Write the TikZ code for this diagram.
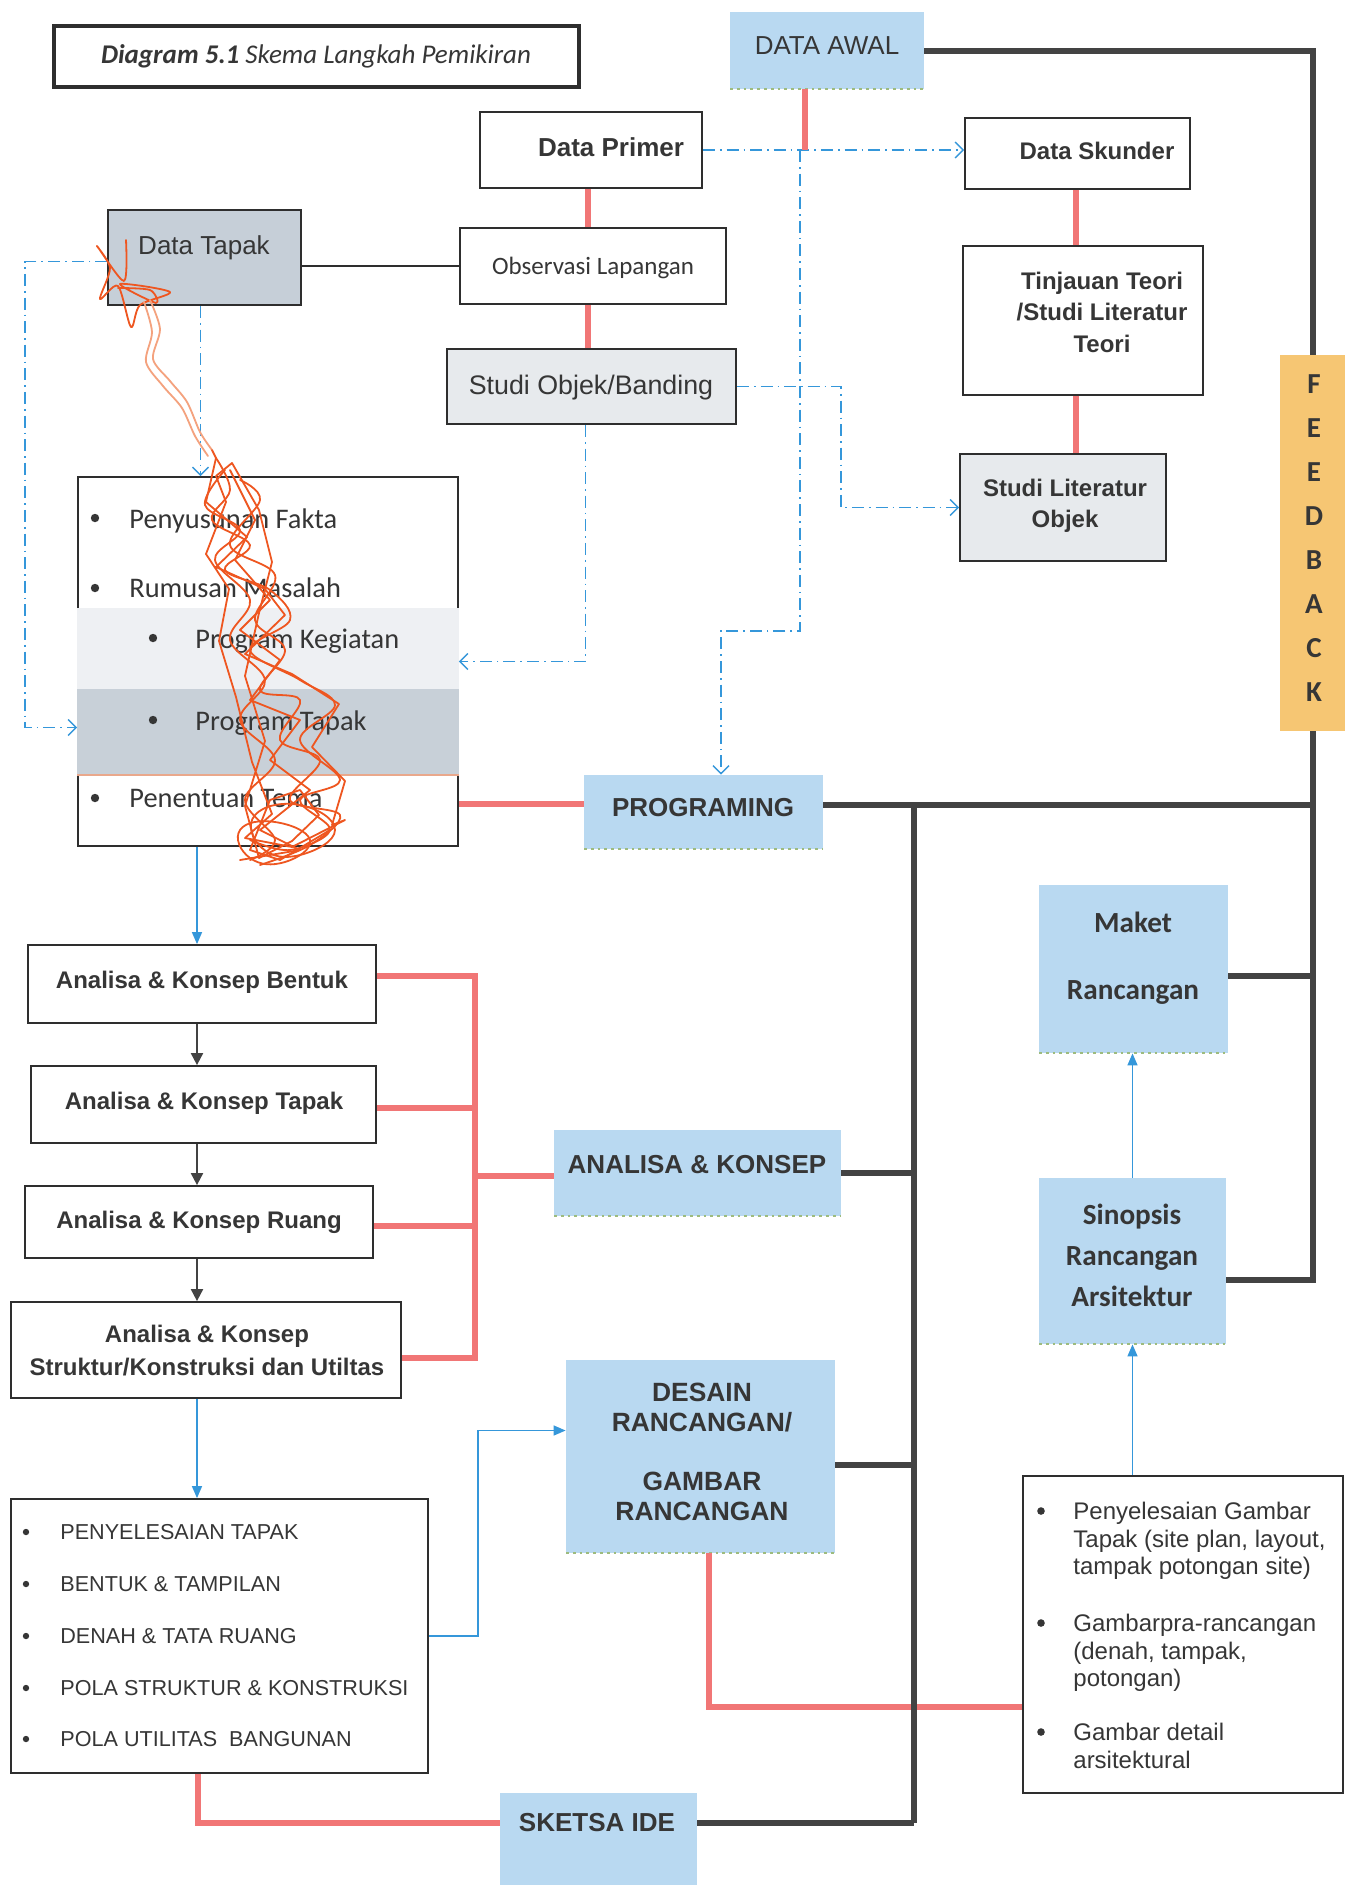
\documentclass[tikz,border=0pt]{standalone}
\usepackage{fontspec}
\setmainfont{Liberation Sans}
\newfontfamily\calfont{Carlito}
\usetikzlibrary{arrows.meta}

\definecolor{ink}{HTML}{363636}
\definecolor{boxline}{HTML}{2E2E2E}
\definecolor{bluefill}{HTML}{B9D9F1}
\definecolor{edgegreen}{HTML}{9DBB7E}
\definecolor{greyfill}{HTML}{E7EAED}
\definecolor{tapakfill}{HTML}{C6CFD8}
\definecolor{bandlight}{HTML}{EEF0F3}
\definecolor{banddark}{HTML}{C8D0D8}
\definecolor{bandedge}{HTML}{E9A88C}
\definecolor{feedfill}{HTML}{F6C673}
\definecolor{redline}{HTML}{F17676}
\definecolor{darkline}{HTML}{434343}
\definecolor{blueline}{HTML}{3597DA}
\definecolor{scrib}{HTML}{EE5620}
\definecolor{scribtail}{HTML}{F4A27E}

\begin{document}
\begin{tikzpicture}[x=0.5pt,y=-0.5pt,
  box/.style={draw=boxline,line width=0.9pt,fill=white,inner sep=0pt},
  greybox/.style={box,fill=greyfill},
  tapakbox/.style={box,fill=tapakfill},
  bluebox/.style={fill=bluefill,inner sep=0pt,
    path picture={\draw[dotted,line width=1.4pt,draw=edgegreen]
      (path picture bounding box.south west) -- (path picture bounding box.south east);}},
  feedbox/.style={fill=feedfill,inner sep=0pt},
  tx/.style={text=ink,inner sep=0pt,align=center},
  redln/.style={draw=redline,line width=3pt},
  darkln/.style={draw=darkline,line width=3pt},
  thinln/.style={draw=boxline,line width=0.9pt},
  bluearr/.style={draw=blueline,line width=0.7pt,-{Triangle[length=6pt,width=5pt]}},
  darkarr/.style={draw=darkline,line width=1pt,-{Triangle[length=6pt,width=6pt]}},
  dashdot/.style={draw=blueline,line width=0.7pt,dash pattern=on 6pt off 2.5pt on 0.8pt off 2.5pt},
  openarr/.style={dashdot,-{Straight Barb[length=4pt,width=8pt]}},
  bul/.style={fill=ink},
  scribble/.style={draw=scrib,line width=0.9pt,line join=round,line cap=round}
]
\useasboundingbox (0,0) rectangle (1345,1885);
\fill[white] (0,0) rectangle (1345,1885);

% ---------- boxes ----------
\node[box,line width=2pt,minimum width=262.5pt,minimum height=30.5pt] (title) at (316.5,56.5) {};
\node[bluebox,minimum width=97pt,minimum height=38.5pt] (awal) at (827,50.5) {};
\node[box,minimum width=111pt,minimum height=38pt] (primer) at (591,150) {};
\node[box,minimum width=112.5pt,minimum height=35.5pt] (skunder) at (1077.5,153.5) {};
\node[tapakbox,minimum width=96.5pt,minimum height=47.5pt] (tapak) at (204.5,257.5) {};
\node[box,minimum width=133pt,minimum height=38pt] (observasi) at (593,266) {};
\node[greybox,minimum width=144.5pt,minimum height=37.5pt] (objek) at (591.5,386.5) {};
\node[box,minimum width=120pt,minimum height=74.5pt] (teori) at (1083,320.5) {};
\node[greybox,minimum width=103pt,minimum height=53.5pt] (litobjek) at (1063,507.5) {};
\node[feedbox,minimum width=32.5pt,minimum height=188pt] (feedback) at (1312.5,543) {};
\node[box,minimum width=190pt,minimum height=184.5pt] (list) at (268,661.5) {};
\node[bluebox,minimum width=119.5pt,minimum height=37pt] (programing) at (703.5,812) {};
\node[bluebox,minimum width=94.5pt,minimum height=84pt] (maket) at (1133.5,969) {};
\node[bluebox,minimum width=93.5pt,minimum height=83pt] (sinopsis) at (1132.5,1261) {};
\node[bluebox,minimum width=143.5pt,minimum height=43pt] (konsep) at (697.5,1173) {};
\node[box,minimum width=174pt,minimum height=39pt] (bentuk) at (202,984) {};
\node[box,minimum width=172.5pt,minimum height=38.5pt] (ktapak) at (203.5,1104.5) {};
\node[box,minimum width=174pt,minimum height=36pt] (ruang) at (199,1222) {};
\node[box,minimum width=195pt,minimum height=48pt] (struktur) at (206,1350) {};
\node[box,minimum width=208.5pt,minimum height=137pt] (lower) at (219.5,1636) {};
\node[bluebox,minimum width=134.5pt,minimum height=96.5pt] (desain) at (700.5,1456.5) {};
\node[box,minimum width=160pt,minimum height=158.5pt] (rightlist) at (1183,1634.5) {};
\node[bluebox,minimum width=98.5pt,minimum height=50pt] (sketsa) at (598.5,1843) {};

% shaded bands inside the list box
\fill[bandlight] (list.west |- 0,608) rectangle (list.east |- 0,689);
\fill[banddark] (list.west |- 0,689) rectangle (list.east |- 0,775);
\draw[bandedge,line width=1pt] (list.west |- 0,775) -- (list.east |- 0,775);

% ---------- named helper points ----------
\coordinate (spine) at (914,812);
\coordinate (brk) at (475,976);
\coordinate (cx) at (197,0);
\coordinate (dv) at (800,150);
\coordinate (dturn) at (721,631);

% ---------- texts ----------
\node[tx,font=\calfont\fontsize{13.5}{16}\selectfont] (titletext) at (316,56)
  {\textbf{\itshape Diagram 5.1} \textit{Skema Langkah Pemikiran}};
\node[tx,font=\fontsize{13}{16}\selectfont] (awaltext) at (827,46) {DATA AWAL};
\node[tx,font=\bfseries\fontsize{13}{16}\selectfont] (primertext) at (611,147) {Data Primer};
\node[tx,font=\bfseries\fontsize{12}{15}\selectfont] (skundertext) at (1097,151) {Data Skunder};
\node[tx,font=\fontsize{13}{16}\selectfont] (tapaktext) at (204,247.5) {Data Tapak};
\node[tx,font=\calfont\fontsize{12.5}{15}\selectfont] (obstext) at (593,268) {Observasi Lapangan};
\node[tx,font=\fontsize{13.4}{16}\selectfont] (objektext) at (591,388) {Studi Objek/Banding};
\node[tx,font=\bfseries\fontsize{12}{15.75}\selectfont] (teoritext) at (1102,312) {Tinjauan Teori\\/Studi Literatur\\Teori};
\node[tx,font=\bfseries\fontsize{12}{15.5}\selectfont] (littext) at (1065,506) {Studi Literatur\\Objek};
\node[tx,font=\calfont\bfseries\fontsize{14.5}{22}\selectfont] (fbtext) at (1314,538.5) {F\\E\\E\\D\\B\\A\\C\\K};

\node[tx,anchor=west,font=\calfont\fontsize{14.2}{17}\selectfont] (l1) at (129,521) {Penyusunan Fakta};
\node[tx,anchor=west,font=\calfont\fontsize{14.2}{17}\selectfont] (l2) at (129,588) {Rumusan Masalah};
\node[tx,anchor=west,font=\calfont\fontsize{14.2}{17}\selectfont] (l3) at (195,641) {Program Kegiatan};
\node[tx,anchor=west,font=\calfont\fontsize{14.2}{17}\selectfont] (l4) at (195,723) {Program Tapak};
\node[tx,anchor=west,font=\calfont\fontsize{14.2}{17}\selectfont] (l5) at (129,798) {Penentuan Tema};
\fill[bul] (95,518) circle[radius=2.1pt];
\fill[bul] (95,588) circle[radius=2.1pt];
\fill[bul] (153,638) circle[radius=2.1pt];
\fill[bul] (153,720) circle[radius=2.1pt];
\fill[bul] (95,798) circle[radius=2.1pt];

\node[tx,font=\bfseries\fontsize{13}{16}\selectfont] (progtext) at (703,808) {PROGRAMING};
\node[tx,font=\calfont\bfseries\fontsize{14.6}{33.5}\selectfont] (maktext) at (1133,958.5) {Maket\\Rancangan};
\node[tx,font=\calfont\bfseries\fontsize{14.6}{20.5}\selectfont] (sintext) at (1132,1255) {Sinopsis\\Rancangan\\Arsitektur};
\node[tx,font=\bfseries\fontsize{13}{16}\selectfont] (konseptext) at (697,1165) {ANALISA \& KONSEP};
\node[tx,font=\bfseries\fontsize{12}{15}\selectfont] (bentuktext) at (202,982.5) {Analisa \& Konsep Bentuk};
\node[tx,font=\bfseries\fontsize{12}{15}\selectfont] (ktapaktext) at (204,1103.5) {Analisa \& Konsep Tapak};
\node[tx,font=\bfseries\fontsize{12}{15}\selectfont] (ruangtext) at (199,1222.5) {Analisa \& Konsep Ruang};
\node[tx,font=\bfseries\fontsize{12}{16.5}\selectfont] (strukturtext) at (207,1351) {Analisa \& Konsep\\Struktur/Konstruksi dan Utiltas};
\node[tx,font=\bfseries\fontsize{13.2}{15}\selectfont] (desaintext) at (702,1451.5) {DESAIN\\RANCANGAN/\\[14.5pt]GAMBAR\\RANCANGAN};
\node[tx,font=\bfseries\fontsize{13}{16}\selectfont] (sketsatext) at (597,1823) {SKETSA IDE};

\node[tx,anchor=west,font=\fontsize{10.8}{13}\selectfont] (p1) at (60,1532) {PENYELESAIAN TAPAK};
\node[tx,anchor=west,font=\fontsize{10.8}{13}\selectfont] (p2) at (60,1584) {BENTUK \& TAMPILAN};
\node[tx,anchor=west,font=\fontsize{10.8}{13}\selectfont] (p3) at (60,1636) {DENAH \& TATA RUANG};
\node[tx,anchor=west,font=\fontsize{10.8}{13}\selectfont] (p4) at (60,1688) {POLA STRUKTUR \& KONSTRUKSI};
\node[tx,anchor=west,font=\fontsize{10.8}{13}\selectfont] (p5) at (60,1739) {POLA UTILITAS\ \ BANGUNAN};
\foreach \yy in {1532,1584,1636,1688,1739} \fill[bul] (26,\yy) circle[radius=1.6pt];

\node[tx,anchor=north west,align=left,font=\fontsize{12}{13.7}\selectfont] (r1) at (1073,1502) {Penyelesaian Gambar\\Tapak (site plan, layout,\\tampak potongan site)};
\node[tx,anchor=north west,align=left,font=\fontsize{12}{13.6}\selectfont] (r2) at (1073,1614) {Gambarpra-rancangan\\(denah, tampak,\\potongan)};
\node[tx,anchor=north west,align=left,font=\fontsize{12}{13.6}\selectfont] (r3) at (1073,1723) {Gambar detail\\arsitektural};
\foreach \yy in {1511,1623,1732} \fill[bul] (1041,\yy) circle[radius=1.9pt];

% ---------- blue dash-dot connectors ----------
\draw[openarr] (primer.east) -- (primer.east -| skunder.west);
\draw[openarr] (dv) |- (dturn) -- (dturn |- programing.north);
\draw[openarr] (objek.east) -- ++(104,0) |- (litobjek.west);
\draw[openarr] ([xshift=-3pt]objek.south) |- (list.east);
\draw[openarr] ([xshift=-2pt]tapak.south) -- ([xshift=-2pt]tapak.south |- list.north);
\draw[openarr] ([yshift=-2pt]tapak.west) -- ++(-82,0) |- ([yshift=-33pt]list.west);

% ---------- solid thin connector ----------
\draw[thinln] (tapak.east |- observasi.west) -- (observasi.west);

% ---------- blue arrows ----------
\draw[bluearr] (cx |- list.south) -- (cx |- bentuk.north);
\draw[bluearr] (cx |- struktur.south) -- (cx |- lower.north);
\draw[bluearr] (lower.east) -- ++(49,0) |- ([yshift=13pt]desain.west);
\draw[bluearr] (sinopsis.south |- rightlist.north) -- (sinopsis.south);
\draw[bluearr] (sinopsis.north) -- (sinopsis.north |- maket.south);

% ---------- dark arrows between analysis steps ----------
\draw[darkarr] (cx |- bentuk.south) -- (cx |- ktapak.north);
\draw[darkarr] (cx |- ktapak.south) -- (cx |- ruang.north);
\draw[darkarr] (cx |- ruang.south) -- (cx |- struktur.north);

% ---------- red links ----------
\draw[redln] ([xshift=-11pt]awal.south) -- ([xshift=-11pt]awal.south |- primer.east);
\draw[redln] ([xshift=-1.5pt]primer.south) -- ([xshift=-1.5pt]primer.south |- observasi.north);
\draw[redln] ([xshift=-1.5pt]primer.south |- observasi.south) -- ([xshift=-1.5pt]primer.south |- objek.north);
\draw[redln] ([xshift=-0.75pt]skunder.south) -- ([xshift=-0.75pt]skunder.south |- teori.north);
\draw[redln] ([xshift=-0.75pt]skunder.south |- teori.south) -- ([xshift=-0.75pt]skunder.south |- litobjek.north);
\draw[redln] ([yshift=4pt]list.east |- programing.west) -- ([yshift=4pt]programing.west);
\draw[redln] ([yshift=4pt]bentuk.east) -- ([yshift=4pt]bentuk.east -| brk)
  -- ([yshift=-4pt]struktur.east -| brk) -- ([yshift=-4pt]struktur.east);
\draw[redln] ([yshift=-1.5pt]ktapak.east) -- ([yshift=-1.5pt]ktapak.east -| brk);
\draw[redln] ([yshift=-2pt]ruang.east) -- ([yshift=-2pt]ruang.east -| brk);
\draw[redln] ([yshift=-1.5pt]konsep.west -| brk) -- ([yshift=-1.5pt]konsep.west);
\draw[redln] ([xshift=4pt]desain.south) |- ([yshift=-36pt]rightlist.west);
\draw[redln] ([xshift=-11pt]lower.south) |- (sketsatext -| sketsa.west);

% ---------- dark frame lines ----------
\draw[darkln] (awal.east) -| (feedback.north);
\draw[darkln] (feedback.south) |- ([yshift=-9.5pt]sinopsis.east);
\draw[darkln] ([yshift=3.5pt]programing.east) -- ([yshift=3.5pt]programing.east -| feedback);
\draw[darkln] ([yshift=-3.5pt]maket.east) -- ([yshift=-3.5pt]maket.east -| feedback);
\draw[darkln] (konsep.east) -- (konsep.east -| spine);
\draw[darkln] ([yshift=-4pt]desain.east) -- ([yshift=-4pt]desain.east -| spine);
\draw[darkln] (sketsa.east |- sketsatext) -- (sketsatext -| spine);
\draw[darkln,line cap=square] ([yshift=3.5pt]spine) -- (sketsatext -| spine);

% ---------- pen scribble across the list ----------
\draw[scribble] plot[smooth,tension=0.5] coordinates {(126,240) (124,281) (97,246) (110,268) (100,299) (118,286)
  (131,327) (140,305) (170,292) (120,284) (156,303) (150,290) (118,288)};
\draw[scribble,draw=scribtail] plot[smooth,tension=0.5] coordinates {(150,300) (160,329) (153,359) (170,381) (187,402)
  (200,432) (212,450)};
\draw[scribble,draw=scribtail] plot[smooth,tension=0.5] coordinates {(144,302) (152,332) (146,362) (163,386) (182,408)
  (195,436) (208,456)};
\draw[scribble] (212,450) -- (216,458) -- (206,502) -- (247,537) -- (216,567) -- (265,589)
  -- (285,615) -- (245,654) -- (292,674) -- (339,704) -- (312,747) -- (345,781) -- (332,825)
  -- (345,820) -- (292,847) -- (245,838) -- (272,814) -- (252,762) -- (236,697) -- (219,641)
  -- (229,589) -- (206,554) -- (226,502) -- (216,476) -- (232,463) -- (259,510) -- (272,562)
  -- (259,613) -- (245,676) -- (265,741) -- (245,806) -- (259,858) -- (292,841) -- (319,815)
  -- (300,790) -- (270,800) -- (250,850) -- (280,860) -- (330,830);
\draw[scribble] (230,470) -- (255,520) -- (235,560) -- (270,600) -- (240,630) -- (280,660)
  -- (250,700) -- (300,720) -- (270,760) -- (310,790) -- (260,830) -- (300,850) -- (240,860);
\draw[scribble] plot[smooth,tension=0.6] coordinates {(216,458) (230,490) (212,520) (250,545) (225,570)
  (270,590) (290,620) (250,650) (300,680) (335,705) (300,740) (340,780) (300,800) (330,830)
  (290,850) (250,840)};
\draw[scribble] plot[smooth,tension=0.6] coordinates {(225,470) (205,505) (240,530) (215,560) (250,600)
  (230,640) (265,680) (240,720) (275,760) (245,800) (275,840) (250,860)};
\draw[scribble] plot[smooth,tension=0.6] coordinates {(240,480) (260,500) (230,545) (275,575) (255,620)
  (285,650) (260,690) (300,700) (280,740) (320,760) (290,800) (340,815) (310,845) (260,865)};
\draw[scribble] plot[smooth cycle,tension=0.8] coordinates {(255,815) (300,805) (335,830) (300,855) (262,848)};
\draw[scribble] plot[smooth cycle,tension=0.8] coordinates {(240,830) (275,822) (310,840) (285,862) (250,858)};
\end{tikzpicture}
\end{document}
